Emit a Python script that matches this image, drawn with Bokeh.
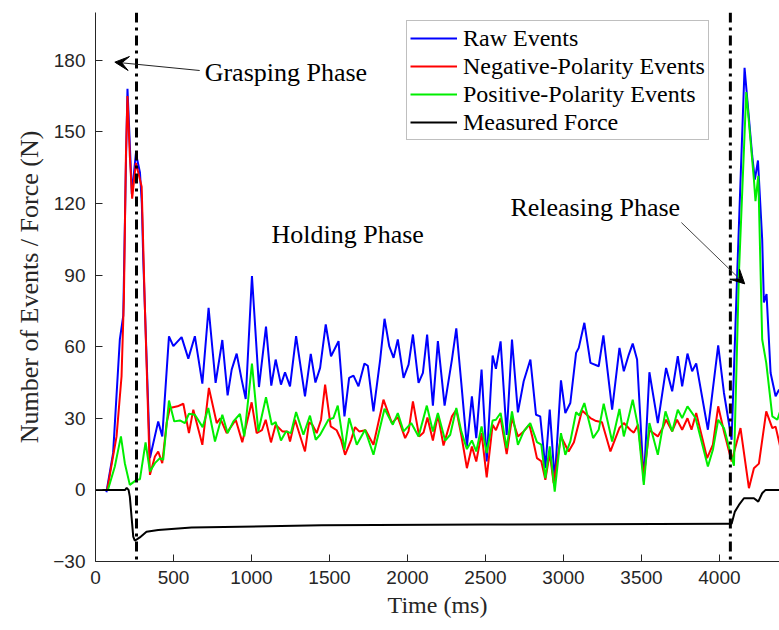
from bokeh.plotting import figure
from bokeh.models import Span, Label, Arrow, VeeHead, FixedTicker, Range1d
from bokeh.embed import file_html
from bokeh.resources import INLINE

# ---------------- data ----------------
raw_t = [70, 113, 156, 178, 196, 205, 218, 233, 259, 285, 297, 306, 349, 402, 428, 471, 499, 552, 595, 637, 685,
         725, 770, 813, 847, 873, 905, 937, 963, 1003, 1048, 1093, 1127, 1155, 1189, 1215, 1247, 1286, 1343, 1380,
         1410, 1440, 1476, 1510, 1558, 1596, 1626, 1654, 1686, 1724, 1746, 1782, 1825, 1853, 1883, 1911, 1938,
         1975, 2007, 2035, 2071, 2099, 2126, 2163, 2195, 2238, 2285, 2313, 2345, 2381, 2413, 2441, 2475, 2508,
         2546, 2567, 2597, 2636, 2670, 2708, 2745, 2788, 2824, 2851, 2884, 2912, 2944, 2984, 3012, 3044, 3081,
         3098, 3134, 3173, 3226, 3256, 3312, 3359, 3387, 3419, 3444, 3472, 3515, 3551, 3605, 3658, 3697, 3733,
         3761, 3795, 3825, 3851, 3926, 3992, 4029, 4078, 4114, 4161, 4210, 4227, 4247, 4274, 4285, 4302, 4328,
         4360, 4382, 4400]
raw_v = [-1, 15.5, 63, 73, 140, 168, 148, 124, 141, 133, 120, 97, 13.4, 28.7, 22.4, 64.3, 60.2, 64, 55, 64.4, 44.5,
         76.3, 44.8, 62.8, 39.6, 50.4, 57.1, 46.2, 38.1, 89.6, 43.1, 68.4, 43.7, 54.6, 44.1, 49.3, 43.4, 64.4, 39.2, 57,
         45, 51.1, 69.3, 56, 62.3, 30.8, 46.9, 47.9, 43.4, 52.9, 52, 32.9, 54.6, 71.7, 60.2, 55.3, 63,
         46.9, 52.5, 65.1, 44.8, 49, 65.1, 35.3, 62.3, 35.3, 54.6, 67.7, 44.8, 18.2, 39.2, 21.7, 50.4, 11.9,
         56.3, 50.7, 62.2, 23, 63, 32.5, 45.5, 54.6, 31.5, 30.8, 9.1, 33.6, 4, 45.9, 32.2, 36.4, 57.4,
         59.5, 70, 53.2, 51.8, 64.7, 33.6, 59.5, 49.7, 56.7, 61.3, 54.6, 3.5, 49.3, 28, 51.1, 41.3, 56,
         43.4, 57.1, 49.7, 53, 25.2, 60.5, 40.6, 21, 91, 176.8, 140, 130, 138, 105, 78.5, 82, 49,
         39.2, 42, 40]

neg_t = [75, 135, 167, 182, 195, 205, 220, 235, 259, 285, 296, 315, 349, 381, 402, 428, 456, 477, 526, 563, 599,
         627, 685, 727, 777, 800, 841, 899, 941, 1001, 1033, 1067, 1091, 1125, 1155, 1198, 1231, 1247, 1279, 1343,
         1369, 1390, 1418, 1446, 1472, 1508, 1546, 1574, 1600, 1639, 1664, 1690, 1731, 1782, 1846, 1900, 1938,
         1985, 2007, 2035, 2075, 2103, 2128, 2163, 2195, 2231, 2285, 2313, 2345, 2381, 2413, 2441, 2475, 2508,
         2546, 2567, 2597, 2636, 2670, 2708, 2745, 2781, 2800, 2830, 2858, 2884, 2912, 2937, 2984, 3033, 3067,
         3119, 3173, 3204, 3247, 3301, 3359, 3387, 3431, 3451, 3478, 3515, 3551, 3605, 3637, 3658, 3697, 3728,
         3761, 3795, 3821, 3851, 3921, 3958, 3992, 4029, 4078, 4135, 4189, 4221, 4253, 4300, 4339, 4360, 4400]
neg_v = [0, 22.4, 47.6, 80, 140, 165, 140, 122, 137, 130, 127, 80, 6.3, 14, 16.1, 11.2, 28, 34.3, 35, 36.1, 23.8,
         33.6, 18.9, 42.7, 28, 30, 23.8, 29.4, 20, 36.7, 23.8, 25, 29.4, 19.9, 27.3, 24.5, 24.5, 20.3, 29.4, 16.1,
         28.3, 27.3, 23.8, 29.4, 44.1, 26.6, 25, 21, 14.7, 21, 26.3, 24.5, 25, 18.9, 37.8, 28, 30.5,
         21.7, 24.5, 37.1, 22.4, 24, 30.3, 20.7, 31.5, 18.6, 30.8, 33.6, 23, 9.1, 18.2, 11.9, 23.8, 5.2,
         27.3, 25, 30.1, 15, 30.1, 22.4, 24.5, 27.3, 22.4, 13.3, 12, 4.2, 15.4, 2.8, 22.4, 16.1, 20,
         33.3, 30.1, 29, 28.3, 16.1, 26, 28, 25, 24, 27.3, 5.6, 25, 22.4, 26, 29.4, 24.5, 29.4,
         25.2, 30, 25.2, 32.2, 13.3, 19, 35, 24.5, 11.9, 25.9, 0.7, 9.1, 11, 32.9, 25.9, 26.5, 15]

pos_t = [81, 124, 163, 188, 220, 263, 285, 321, 349, 381, 413, 434, 471, 505, 541, 573, 599, 637, 687, 723, 766,
         813, 847, 884, 926, 954, 1003, 1044, 1093, 1130, 1155, 1189, 1221, 1253, 1286, 1333, 1375, 1412, 1440,
         1493, 1525, 1553, 1596, 1626, 1675, 1728, 1782, 1853, 1906, 1938, 1975, 2024, 2071, 2124, 2163, 2195,
         2242, 2274, 2313, 2345, 2381, 2413, 2441, 2475, 2508, 2546, 2567, 2597, 2636, 2670, 2708, 2745, 2787,
         2830, 2858, 2884, 2912, 2944, 2984, 3012, 3044, 3081, 3102, 3134, 3190, 3226, 3258, 3312, 3359, 3387,
         3419, 3444, 3478, 3515, 3551, 3605, 3654, 3697, 3733, 3761, 3795, 3847, 3926, 3958, 3992, 4029, 4093,
         4125, 4172, 4221, 4231, 4249, 4274, 4300, 4339, 4371, 4400]
pos_v = [0.3, 9.8, 22.4, 11.2, 2.1, 4.2, 4.5, 19.9, 7.7, 11.2, 13.3, 12.6, 37.4, 28.7, 29.1, 28, 31.9, 31.5, 26.3, 34.3, 20.3,
         31.5, 23.8, 28.7, 31.8, 22.4, 52.9, 24.5, 38.8, 27.3, 28.4, 20.7, 24.5, 23.8, 32.6, 23.1, 31.1, 21, 23.1,
         29.4, 30.1, 35.3, 16.8, 30.1, 18.9, 25.2, 14.7, 34, 27.3, 32.2, 24.5, 28, 22.4, 35.3, 24.5, 32.2,
         20.6, 23.1, 34.3, 24.5, 17.1, 20.7, 16.1, 26.6, 15.4, 29.1, 29.4, 32.2, 17.5, 32.9, 18.9, 24.5, 28,
         20, 19, 4.9, 18.2, -0.7, 23.8, 14.7, 20.3, 32.5, 31.2, 36.4, 21.7, 25.2, 36.1, 20.3, 33.9, 22.4,
         30.8, 37.8, 26.6, 2.1, 28, 14.7, 32.9, 24.5, 33.6, 30.1, 35, 30.1, 9.8, 16.8, 29.4, 25.9, 10.1,
         91, 166.7, 130, 121, 131.6, 63, 53.2, 30.8, 29.4, 35]

force_t = [0, 190, 200, 212, 220, 242, 252, 284, 327, 402, 616, 1450, 2500, 4070, 4078, 4099, 4125, 4157, 4221,
           4249, 4274, 4296, 4400]
force_v = [0, 0, 0.8, 0, -2.8, -19.6, -21.3, -19.9, -17.5, -16.8, -15.8, -14.8, -14.5, -14.2, -14.2, -9.1, -6.3,
           -3.5, -3.5, -4.9, -1.4, 0, 0]

phase_lines = [263, 4070]
x_ticks = [0, 500, 1000, 1500, 2000, 2500, 3000, 3500, 4000]
y_ticks = [-30, 0, 30, 60, 90, 120, 150, 180]

SERIF = "Liberation Serif"
SANS = "Liberation Sans"
AX = "#262626"

p = figure(width=779, height=630, output_backend="svg", toolbar_location=None,
           x_range=Range1d(0, 4385), y_range=Range1d(-30, 200))
p.min_border_left = 95
p.min_border_right = 0
p.min_border_top = 12
p.min_border_bottom = 69
p.outline_line_color = None
p.grid.visible = False
p.background_fill_color = "white"

p.line(raw_t, raw_v, color="#0000ff", line_width=2, legend_label="Raw Events")
p.line(neg_t, neg_v, color="#ff0000", line_width=2, legend_label="Negative-Polarity Events")
p.line(pos_t, pos_v, color="#00ee00", line_width=2, legend_label="Positive-Polarity Events")
p.line(force_t, force_v, color="black", line_width=2, legend_label="Measured Force")

for loc in phase_lines:
    p.add_layout(Span(location=loc, dimension="height", line_color="black", line_width=3,
                      line_dash="10 5 3 5"))

# axes
for ax in (p.xaxis[0], p.yaxis[0]):
    ax.axis_line_color = AX
    ax.major_tick_line_color = AX
    ax.major_tick_in = 7
    ax.major_tick_out = 0
    ax.minor_tick_line_color = None
    ax.major_label_text_font = SANS
    ax.major_label_text_font_size = "19px"
    ax.major_label_text_color = AX
    ax.axis_label_text_font = SERIF
    ax.axis_label_text_font_style = "normal"
    ax.axis_label_text_color = AX

p.xaxis.axis_label_text_font_size = "24px"
p.yaxis.axis_label_text_font_size = "26px"
p.xaxis.ticker = FixedTicker(ticks=x_ticks)
p.yaxis.ticker = FixedTicker(ticks=y_ticks)
p.xaxis.axis_label = "Time (ms)"
p.yaxis.axis_label = "Number of Events / Force (N)"
p.xaxis.major_label_standoff = 9
p.yaxis.major_label_standoff = 10
p.xaxis.axis_label_standoff = 5
p.yaxis.axis_label_standoff = 6

# annotations
ANN = "26px"
p.add_layout(Label(x=700, y=175, text="Grasping Phase", text_font=SERIF, text_font_size=ANN,
                   text_baseline="middle", text_color="black"))
p.add_layout(Label(x=1128, y=107, text="Holding Phase", text_font=SERIF, text_font_size=ANN,
                   text_baseline="middle", text_color="black"))
p.add_layout(Label(x=2660, y=118.5, text="Releasing Phase", text_font=SERIF, text_font_size=ANN,
                   text_baseline="middle", text_color="black"))
p.add_layout(Arrow(x_start=668, y_start=175.7, x_end=124, y_end=179.2, line_color="#222222", line_width=1,
                   end=VeeHead(size=14, fill_color="black", line_color="black")))
p.add_layout(Arrow(x_start=3756, y_start=112, x_end=4162, y_end=86.3, line_color="#444444", line_width=1,
                   end=VeeHead(size=14, fill_color="black", line_color="black")))

# legend
lg = p.legend[0]
lg.location = (311, 421)
lg.label_text_font = SERIF
lg.label_text_font_size = "24px"
lg.label_text_color = "black"
lg.glyph_width = 47
lg.glyph_height = 28
lg.label_height = 28
lg.label_standoff = 6
lg.spacing = 0
lg.padding = 3
lg.margin = 0
lg.border_line_color = "#7f7f7f"
lg.border_line_width = 1
lg.background_fill_alpha = 1.0

open("out.html", "w").write(file_html(p, INLINE))
